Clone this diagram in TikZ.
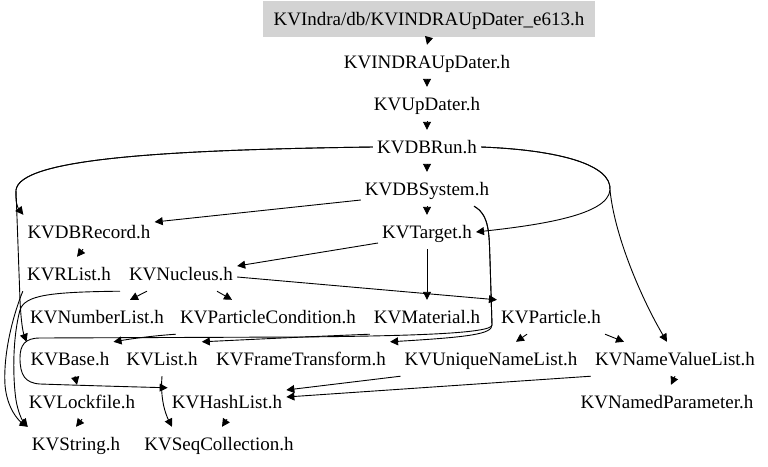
\documentclass[tikz,border=0pt]{standalone}
\usepackage{fontspec}
\setmainfont{Liberation Serif}
\usetikzlibrary{arrows.meta}
\definecolor{hdrgray}{RGB}{211,211,211}
\begin{document}
\begin{tikzpicture}[x=1pt,y=-1pt,
  hdr/.style={font=\fontsize{19}{22}\selectfont, text height=16pt, text depth=4pt, inner xsep=4pt, inner ysep=7pt},
  edge/.style={draw=black, line width=0.9pt, -{Triangle[length=8pt,width=8pt]}},
]
\useasboundingbox (0,0) rectangle (768,466);
\fill[white] (0,0) rectangle (768,466);
% nodes
\node[hdr, fill=hdrgray, minimum width=332pt, minimum height=36pt] (top) at (429,19) {KVIndra/db/KVINDRAUpDater\_e613.h};
\node[hdr] (INDRAUp) at (427,62) {KVINDRAUpDater.h};
\node[hdr] (UpDater) at (427,104) {KVUpDater.h};
\node[hdr] (DBRun) at (427,147) {KVDBRun.h};
\node[hdr] (DBSystem) at (427,189) {KVDBSystem.h};
\node[hdr] (DBRecord) at (89,232) {KVDBRecord.h};
\node[hdr] (Target) at (427,232) {KVTarget.h};
\node[hdr] (RList) at (69,274) {KVRList.h};
\node[hdr] (Nucleus) at (181,274) {KVNucleus.h};
\node[hdr] (NumberList) at (97,317) {KVNumberList.h};
\node[hdr] (PartCond) at (268,317) {KVParticleCondition.h};
\node[hdr] (Material) at (427,317) {KVMaterial.h};
\node[hdr] (Particle) at (551,317) {KVParticle.h};
\node[hdr] (Base) at (70,359) {KVBase.h};
\node[hdr] (List) at (162,359) {KVList.h};
\node[hdr] (FrameT) at (301,359) {KVFrameTransform.h};
\node[hdr] (UniqueNL) at (491,359) {KVUniqueNameList.h};
\node[hdr] (NameVL) at (675,359) {KVNameValueList.h};
\node[hdr] (Lockfile) at (82,402) {KVLockfile.h};
\node[hdr] (HashList) at (227,402) {KVHashList.h};
\node[hdr] (NamedPar) at (667,402) {KVNamedParameter.h};
\node[hdr] (String) at (76,444) {KVString.h};
\node[hdr] (SeqColl) at (219,444) {KVSeqCollection.h};
% edges
\draw[edge] (top.south) -- (INDRAUp.north);
\draw[edge] (INDRAUp.south) -- (UpDater.north);
\draw[edge] (UpDater.south) -- (DBRun.north);
\draw[edge] (DBRun.south) -- (DBSystem.north);
\draw[edge] (DBSystem.south) -- (Target.north);
\draw[edge] (DBRun.west) .. controls (150,150) and (20,160) .. (16,190) .. controls (15,202) and (18,208) .. (DBRecord.north west);
\draw[edge] (DBRun.west) .. controls (150,150) and (20,160) .. (16,190) -- (20,300) .. controls (21,322) and (23,332) .. (Base.north west);
\draw[edge] ([yshift=-11pt]DBSystem.west) -- ([yshift=10pt]DBRecord.east);
\draw[edge] (DBRun.east) .. controls (560,150) and (612,165) .. (610,190) .. controls (608,215) and (540,225) .. (Target.east);
\draw[edge] (DBRun.east) .. controls (560,150) and (612,165) .. (610,190) .. controls (615,240) and (645,305) .. ([xshift=-8pt]NameVL.north);
\draw[edge] ([xshift=-6pt]DBRecord.south) -- ([xshift=8pt]RList.north);
\draw[edge] ([yshift=-11pt]Target.west) -- ([yshift=8pt]Nucleus.east);
\draw[edge] (Target.south) -- (Material.north);
\draw[edge] ([yshift=-3pt]Nucleus.east) -- (Particle.north west);
\draw[edge] ([xshift=-34pt]Nucleus.south) -- ([xshift=33pt]NumberList.north);
\draw[edge] ([xshift=36pt]Nucleus.south) -- ([xshift=-36pt]PartCond.north);
\draw[edge] ([xshift=-61pt]Nucleus.south) .. controls (50,292) and (25,295) .. (20,310) .. controls (12,340) and (13,380) .. (16,400) .. controls (18,412) and (22,420) .. (String.north west);
\draw[edge] (RList.south west) .. controls (15,310) and (3,350) .. (5,385) .. controls (7,408) and (18,420) .. (String.north west);
\draw[edge] ([xshift=5pt]Base.south) -- ([xshift=-5pt]Lockfile.north);
\draw[edge] (Lockfile.south) -- (String.north);
\draw[edge] (List.south) .. controls (160,400) and (166,415) .. ([xshift=-47pt]SeqColl.north);
\draw[edge] (HashList.south) -- ([xshift=3pt]SeqColl.north);
\draw[edge] (UniqueNL.south west) -- ([yshift=12pt]HashList.east);
\draw[edge] (NameVL.south west) -- ([yshift=5pt]HashList.east);
\draw[edge] (NameVL.south) -- ([xshift=4pt]NamedPar.north);
\draw[edge] ([xshift=-24pt]Particle.south) -- ([xshift=25pt]UniqueNL.north);
\draw[edge] (Particle.south east) -- ([xshift=-51pt]NameVL.north);
\draw[edge] (PartCond.south west) .. controls (150,336) and (130,339) .. (Base.north east);
\draw[edge] (Material.south west) .. controls (300,337) and (240,340) .. (List.north east);
\draw[edge] ([xshift=47pt]DBSystem.south) .. controls (490,215) and (489,235) .. (490,260) -- (492,325) .. controls (492,334) and (470,337) .. (FrameT.north east);
\draw[edge] ([xshift=47pt]DBSystem.south) .. controls (490,215) and (489,235) .. (490,260) -- (492,325) .. controls (492,334) and (400,336) .. (300,337) -- (40,338) .. controls (25,338) and (20,345) .. (20,358) .. controls (20,375) and (25,383) .. (40,384) .. controls (100,386) and (140,387) .. ([yshift=-3pt]HashList.north west);
\end{tikzpicture}
\end{document}
